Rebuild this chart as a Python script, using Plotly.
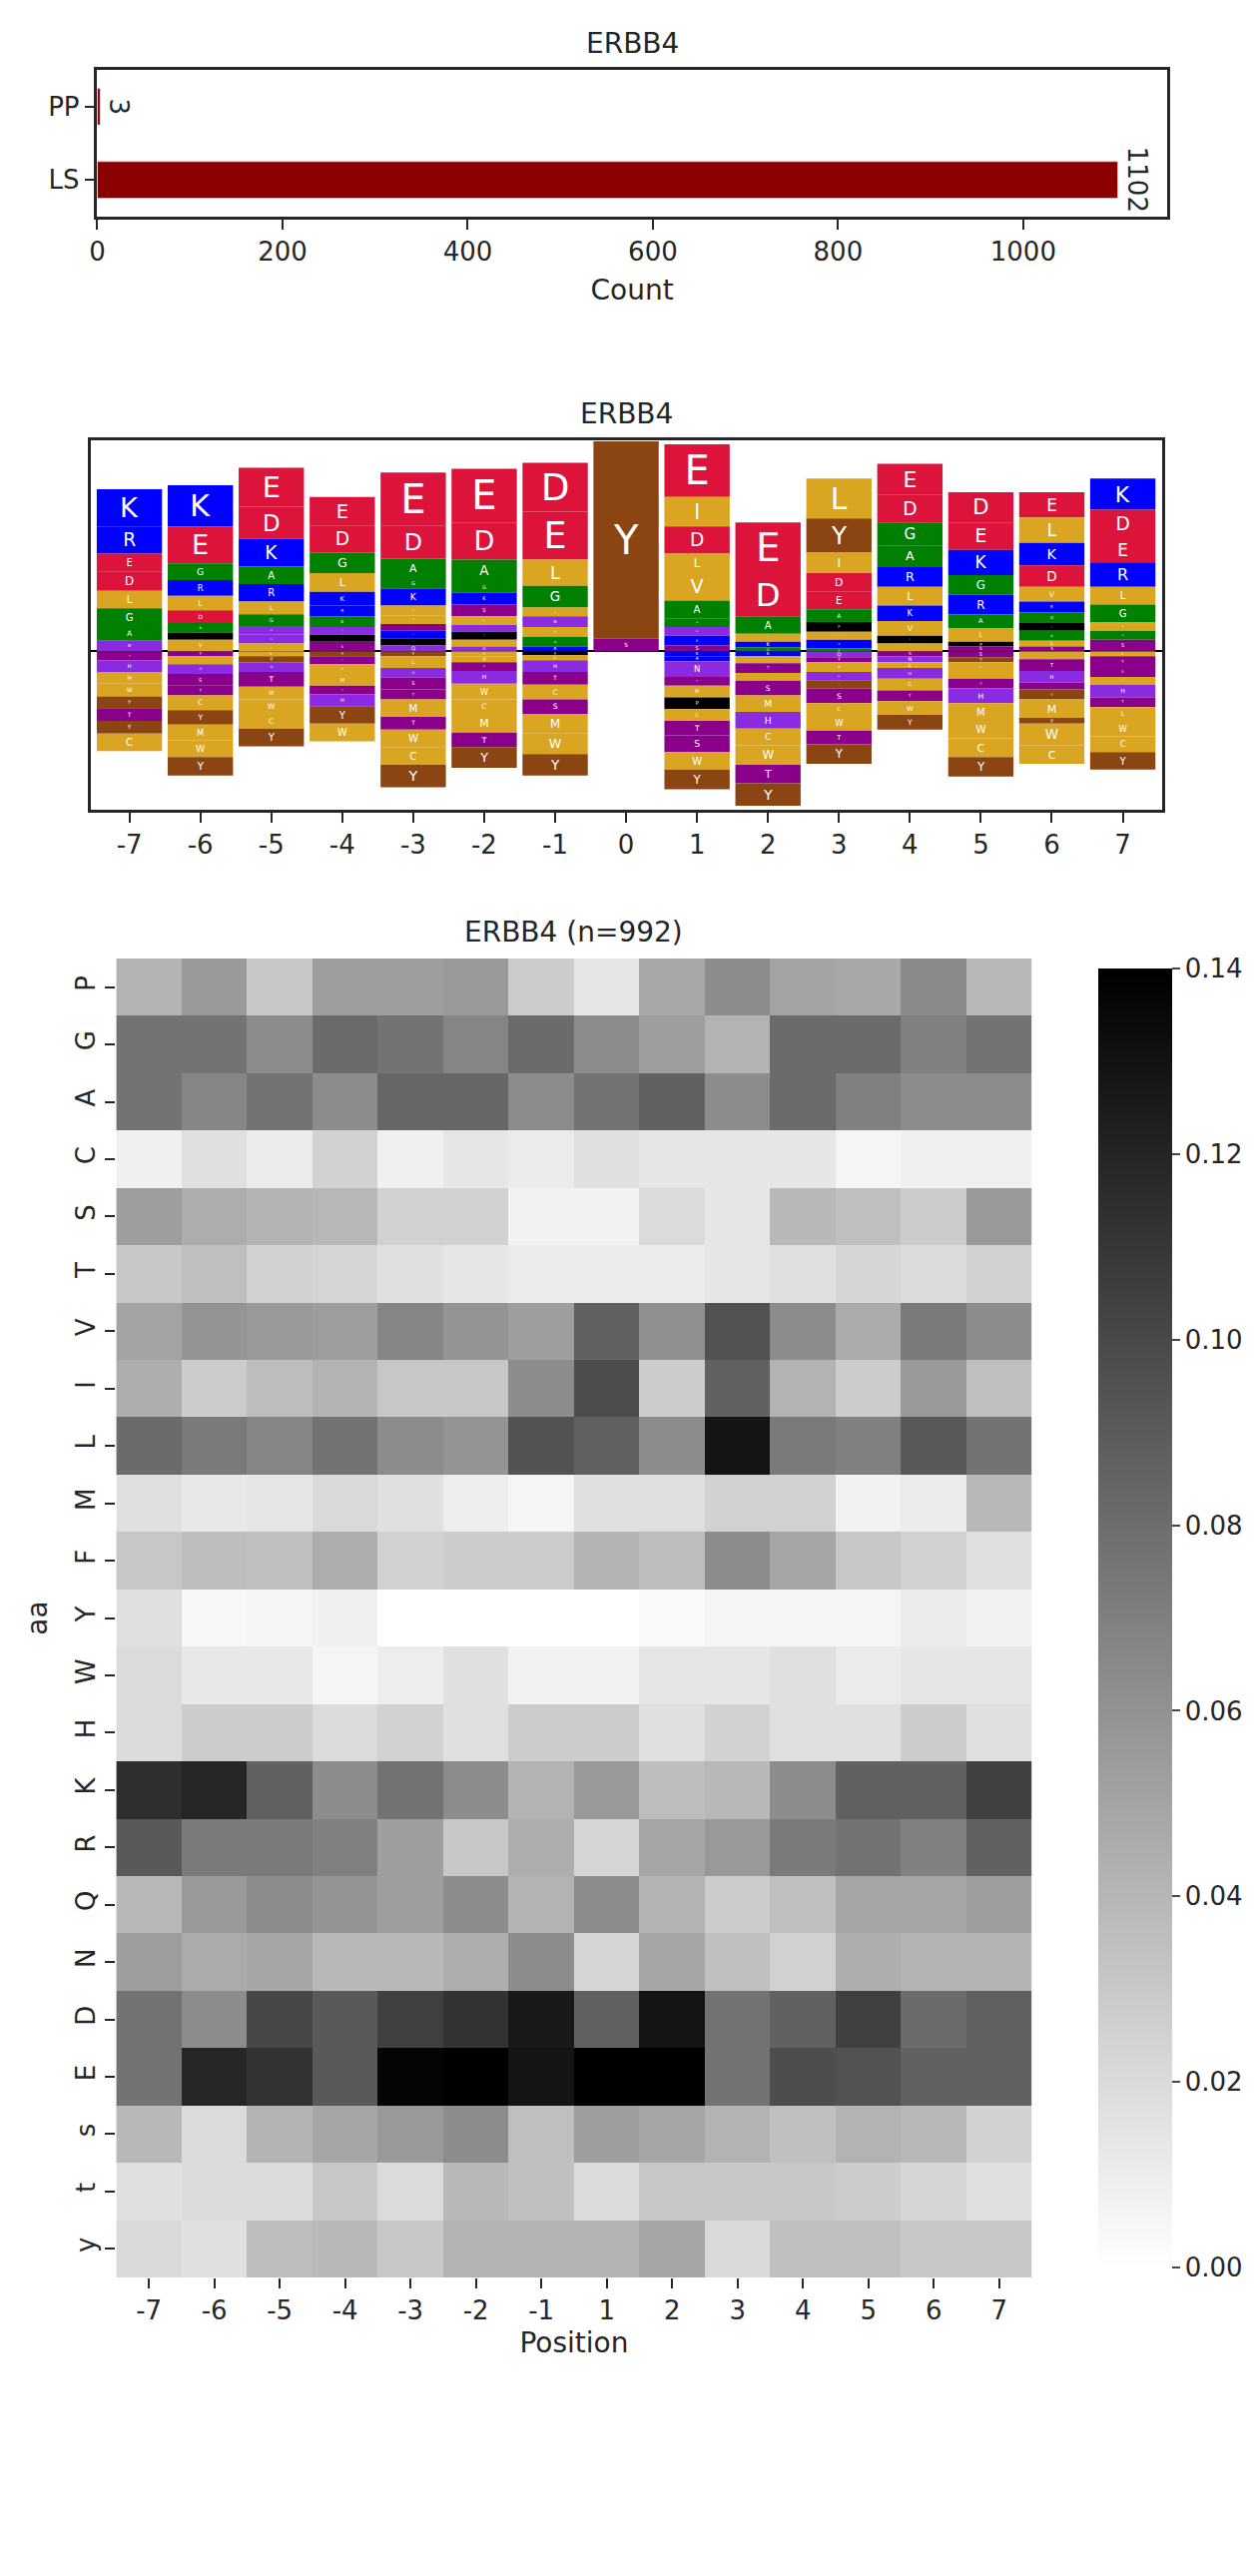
import plotly.graph_objects as go

# --- bar counts
bar_cats = ["LS", "PP"]
bar_counts = [1102, 3]

# --- logo: per position, letters above baseline (top -> bottom) and below (baseline -> down)
logo_pos = ["-7", "-6", "-5", "-4", "-3", "-2", "-1", "0", "1", "2", "3", "4", "5", "6", "7"]
logo_up = [
    [("K", 3.8), ("R", 2.8), ("E", 1.8), ("D", 2.0), ("L", 1.8), ("G", 1.8), ("A", 1.5), ("N", 1.1)],
    [("K", 4.2), ("E", 3.8), ("G", 1.7), ("R", 1.6), ("L", 1.5), ("D", 1.3), ("A", 1.0), ("P", 0.7), ("V", 1.2)],
    [("E", 4.0), ("D", 3.3), ("K", 2.8), ("A", 1.8), ("R", 1.8), ("L", 1.3), ("G", 1.2), ("Q", 0.9), ("N", 0.9), ("V", 0.8)],
    [("E", 2.9), ("D", 2.8), ("G", 2.1), ("L", 1.9), ("K", 1.4), ("R", 1.1), ("A", 1.1), ("Q", 0.8), ("P", 0.7), ("S", 1.0)],
    [("E", 5.4), ("D", 3.4), ("A", 1.9), ("G", 1.2), ("K", 1.7), ("L", 1.0), ("V", 0.9), ("S", 0.7), ("R", 0.8), ("P", 0.7), ("Q", 0.6)],
    [("E", 5.5), ("D", 3.8), ("A", 2.2), ("G", 1.2), ("K", 1.2), ("S", 1.2), ("L", 0.9), ("Q", 0.7), ("P", 0.8), ("V", 0.7), ("H", 0.5)],
    [("D", 5.0), ("E", 4.9), ("L", 2.7), ("G", 2.2), ("L", 0.9), ("N", 1.1), ("V", 1.0), ("A", 1.0), ("R", 0.5)],
    [("Y", 20.2), ("S", 1.3)],
    [("E", 5.4), ("I", 3.0), ("D", 2.8), ("L", 2.0), ("V", 2.8), ("A", 1.8), ("G", 0.9), ("Q", 0.9), ("K", 1.0), ("S", 0.6)],
    [("E", 5.2), ("D", 4.4), ("A", 1.8), ("V", 0.8), ("K", 0.6), ("G", 0.4)],
    [("L", 4.1), ("Y", 3.5), ("I", 2.1), ("D", 1.9), ("E", 1.8), ("A", 1.3), ("P", 1.0), ("L", 0.8), ("R", 0.9), ("G", 0.3)],
    [("E", 3.2), ("D", 2.8), ("G", 2.4), ("A", 2.1), ("R", 2.1), ("L", 1.9), ("K", 1.6), ("V", 1.5), ("P", 0.8), ("L", 0.8)],
    [("D", 3.1), ("E", 2.8), ("K", 2.6), ("G", 2.0), ("R", 2.0), ("A", 1.4), ("L", 1.4), ("P", 0.5), ("S", 0.5)],
    [("E", 2.6), ("L", 2.6), ("K", 2.3), ("D", 2.2), ("V", 1.5), ("R", 1.1), ("G", 1.1), ("P", 0.8), ("A", 1.0), ("L", 0.6), ("S", 0.5)],
    [("K", 3.2), ("D", 2.8), ("E", 2.6), ("R", 2.5), ("L", 1.8), ("G", 1.8), ("V", 0.9), ("A", 0.9), ("S", 1.2)],
]
logo_down = [
    [("T", 0.9), ("H", 1.2), ("M", 1.2), ("W", 1.3), ("Y", 1.2), ("T", 1.3), ("Y", 1.3), ("C", 1.8)],
    [("T", 0.5), ("L", 0.8), ("H", 1.0), ("S", 1.2), ("T", 1.0), ("C", 1.5), ("Y", 1.5), ("M", 1.6), ("W", 1.7), ("Y", 1.9)],
    [("L", 0.5), ("Y", 0.6), ("H", 1.0), ("T", 1.5), ("M", 1.3), ("W", 1.5), ("C", 1.5), ("Y", 1.8)],
    [("Y", 0.5), ("T", 0.8), ("C", 1.0), ("M", 1.2), ("T", 0.9), ("H", 1.2), ("Y", 1.8), ("W", 1.8)],
    [("Y", 0.5), ("L", 1.2), ("H", 1.0), ("S", 1.2), ("T", 1.0), ("M", 1.8), ("T", 1.3), ("W", 1.8), ("C", 1.8), ("Y", 2.3)],
    [("L", 0.5), ("V", 0.6), ("S", 0.9), ("H", 1.3), ("W", 1.6), ("C", 1.5), ("M", 1.9), ("T", 1.5), ("Y", 2.1)],
    [("P", 0.4), ("L", 0.5), ("H", 1.2), ("T", 1.3), ("C", 1.5), ("S", 1.5), ("M", 2.0), ("W", 2.1), ("Y", 2.2)],
    [],
    [("K", 0.5), ("R", 0.5), ("N", 1.6), ("T", 0.9), ("M", 1.2), ("P", 1.2), ("C", 1.2), ("T", 1.5), ("S", 1.7), ("W", 1.8), ("Y", 2.0)],
    [("K", 0.5), ("L", 0.7), ("T", 1.0), ("L", 0.8), ("S", 1.5), ("M", 1.7), ("H", 1.7), ("C", 1.7), ("W", 2.0), ("T", 1.9), ("Y", 2.3)],
    [("Q", 0.6), ("T", 0.5), ("M", 1.0), ("H", 0.9), ("Y", 0.8), ("S", 1.5), ("C", 1.2), ("W", 1.6), ("T", 1.4), ("Y", 2.0)],
    [("S", 0.5), ("N", 0.6), ("L", 0.6), ("H", 1.1), ("C", 1.2), ("T", 1.1), ("W", 1.4), ("Y", 1.5)],
    [("S", 0.6), ("Y", 0.5), ("L", 1.0), ("I", 0.7), ("T", 1.0), ("H", 1.5), ("M", 1.8), ("W", 1.8), ("C", 1.9), ("Y", 2.0)],
    [("L", 0.8), ("T", 1.2), ("H", 1.2), ("T", 0.7), ("Y", 1.0), ("M", 1.9), ("Y", 0.6), ("W", 2.2), ("C", 1.9)],
    [("L", 0.5), ("T", 1.1), ("S", 1.0), ("V", 0.8), ("H", 1.3), ("T", 1.0), ("L", 1.4), ("W", 1.6), ("C", 1.6), ("Y", 1.8)],
]
aa_colors = {
    "K": "#0000ff", "R": "#0000ff", "D": "#dc143c", "E": "#dc143c",
    "G": "#008000", "A": "#008000", "L": "#daa520", "V": "#daa520", "I": "#daa520",
    "M": "#daa520", "W": "#daa520", "C": "#daa520", "F": "#daa520",
    "N": "#8a2be2", "Q": "#8a2be2", "H": "#8a2be2", "S": "#8b008b", "T": "#8b008b",
    "P": "#000000", "Y": "#8b4513",
}

# --- heatmap
hm_x = ["-7", "-6", "-5", "-4", "-3", "-2", "-1", "1", "2", "3", "4", "5", "6", "7"]
hm_y = ["P", "G", "A", "C", "S", "T", "V", "I", "L", "M", "F", "Y", "W", "H", "K", "R", "Q", "N", "D", "E", "s", "t", "y"]
hm_shade = [
    [.30, .40, .22, .38, .38, .40, .20, .10, .34, .45, .36, .34, .46, .28],
    [.55, .55, .45, .58, .55, .48, .58, .45, .38, .30, .58, .58, .50, .55],
    [.55, .48, .55, .45, .60, .60, .45, .55, .62, .45, .58, .50, .45, .45],
    [.06, .12, .08, .18, .06, .10, .08, .12, .10, .10, .10, .04, .06, .06],
    [.38, .32, .30, .28, .18, .18, .05, .05, .14, .10, .28, .25, .20, .40],
    [.22, .25, .18, .16, .12, .10, .08, .08, .08, .10, .12, .16, .14, .18],
    [.36, .42, .40, .38, .48, .42, .38, .62, .44, .68, .45, .33, .52, .45],
    [.32, .20, .26, .30, .22, .22, .45, .70, .20, .62, .30, .20, .40, .25],
    [.58, .52, .48, .55, .45, .42, .68, .62, .45, .92, .52, .50, .65, .55],
    [.12, .09, .10, .15, .12, .07, .04, .12, .12, .18, .18, .05, .08, .28],
    [.22, .26, .25, .32, .18, .20, .20, .30, .26, .45, .35, .22, .18, .12],
    [.12, .03, .04, .06, .00, .00, .00, .00, .02, .04, .04, .04, .08, .05],
    [.14, .09, .09, .04, .07, .12, .05, .05, .10, .10, .12, .08, .10, .10],
    [.14, .20, .20, .14, .18, .12, .20, .20, .12, .18, .12, .12, .20, .12],
    [.82, .85, .62, .45, .55, .45, .30, .40, .26, .28, .45, .62, .62, .75],
    [.65, .52, .52, .50, .38, .22, .32, .16, .35, .40, .52, .55, .50, .62],
    [.28, .40, .45, .42, .38, .45, .30, .45, .30, .20, .25, .35, .35, .38],
    [.38, .33, .35, .28, .28, .32, .45, .16, .35, .25, .18, .32, .30, .30],
    [.55, .45, .72, .65, .75, .80, .90, .62, .92, .55, .62, .75, .58, .62],
    [.55, .85, .80, .65, .98, 1.0, .92, 1.0, 1.0, .55, .70, .68, .62, .62],
    [.28, .14, .30, .35, .40, .45, .25, .38, .35, .30, .25, .30, .28, .18],
    [.12, .14, .14, .22, .14, .28, .25, .14, .22, .22, .22, .20, .16, .12],
    [.15, .12, .26, .28, .22, .30, .30, .30, .35, .15, .25, .25, .22, .22],
]
hm_max = 0.14
hm_z = [[v * hm_max for v in row] for row in hm_shade]

W, H = 1257, 2580
FONT = "DejaVu Sans"
TXT = "#262626"
fs = 26

def px_x(a, b):
    return [a / W, b / W]

def px_y(top, bottom):
    return [1 - bottom / H, 1 - top / H]

fig = go.Figure()

# bar chart
fig.add_trace(go.Bar(y=bar_cats, x=bar_counts, orientation="h", marker_color="#8b0000",
                     width=0.5, xaxis="x", yaxis="y", showlegend=False))
for c, v in zip(bar_cats, bar_counts):
    fig.add_annotation(x=v, y=c, xref="x", yref="y", text=str(v), textangle=90,
                       showarrow=False, xanchor="left", xshift=2, font=dict(size=fs, color=TXT))

# logo
lx, ly, lb, lt, lc = [], [], [], [], []
for p, up, dn in zip(logo_pos, logo_up, logo_down):
    top = sum(h for _, h in up)
    for a, h in up:
        top -= h
        lx.append(p); ly.append(h); lb.append(top); lt.append(a); lc.append(aa_colors[a])
    bot = 0
    for a, h in dn:
        bot -= h
        lx.append(p); ly.append(h); lb.append(bot); lt.append(a); lc.append(aa_colors[a])
fig.add_trace(go.Bar(x=lx, y=ly, base=lb, text=lt, marker=dict(color=lc, line=dict(width=0)),
                     width=0.92, textposition="inside", insidetextanchor="middle",
                     textfont=dict(color="white", family=FONT, size=40), textangle=0,
                     xaxis="x2", yaxis="y2", showlegend=False))

# heatmap
fig.add_trace(go.Heatmap(z=hm_z, x=hm_x, y=hm_y, colorscale=[[0, "#ffffff"], [1, "#000000"]],
                         zmin=0, zmax=hm_max, xaxis="x3", yaxis="y3",
                         colorbar=dict(x=1081 / W, xanchor="left", thickness=74, thicknessmode="pixels",
                                       y=px_y(952, 2273)[0], yanchor="bottom", len=1321 / H,
                                       tickvals=[0, .02, .04, .06, .08, .1, .12, .14],
                                       tickformat=".2f", ticks="outside", ticklen=8, tickwidth=2,
                                       outlinewidth=0, tickfont=dict(size=fs, color=TXT))))

frame = dict(showline=True, linecolor=TXT, linewidth=2.5, mirror=True, showgrid=False,
             ticks="outside", ticklen=10, tickwidth=2, tickcolor=TXT,
             tickfont=dict(size=fs, color=TXT))

fig.update_layout(
    width=W, height=H, margin=dict(l=0, r=0, t=0, b=0),
    plot_bgcolor="white", paper_bgcolor="white", barmode="overlay",
    font=dict(family=FONT, color=TXT, size=fs),
    xaxis=dict(domain=px_x(82, 1160), anchor="y", range=[0, 1155], tickvals=[0, 200, 400, 600, 800, 1000],
               title=dict(text="Count", font=dict(size=fs + 2)), zeroline=False, **frame),
    yaxis=dict(domain=px_y(62, 209), anchor="x", categoryorder="array", categoryarray=bar_cats,
               range=[-0.5, 1.5], **frame),
    xaxis2=dict(domain=px_x(75, 1155), anchor="y2", type="category", categoryorder="array",
                categoryarray=logo_pos, range=[-0.55, 14.55], **frame),
    yaxis2=dict(domain=px_y(433, 803), anchor="x2", range=[-16.2, 21.6], showticklabels=False,
                zeroline=True, zerolinecolor="black", zerolinewidth=2,
                **{k: v for k, v in frame.items() if k not in ("ticks",)}, ticks=""),
    xaxis3=dict(domain=px_x(101, 1024), anchor="y3", title=dict(text="Position", font=dict(size=fs + 2), standoff=8), **frame),
    yaxis3=dict(domain=px_y(952, 2273), anchor="x3", autorange="reversed",
                title=dict(text="aa", font=dict(size=fs + 2)), tickangle=-90, **frame),
)
fig.update_xaxes(showline=False, selector=dict(anchor="y3"))
fig.update_yaxes(showline=False, selector=dict(anchor="x3"))

titles = [("ERBB4", 1160 / 2 + 41, 62), ("ERBB4", 615, 433), ("ERBB4 (n=992)", 562, 952)]
for t, xc, top in titles:
    fig.add_annotation(text=t, x=xc / W, y=1 - (top - 8) / H, xref="paper", yref="paper",
                       showarrow=False, yanchor="bottom", font=dict(size=fs + 2, color=TXT))

fig.write_html("out.html")
